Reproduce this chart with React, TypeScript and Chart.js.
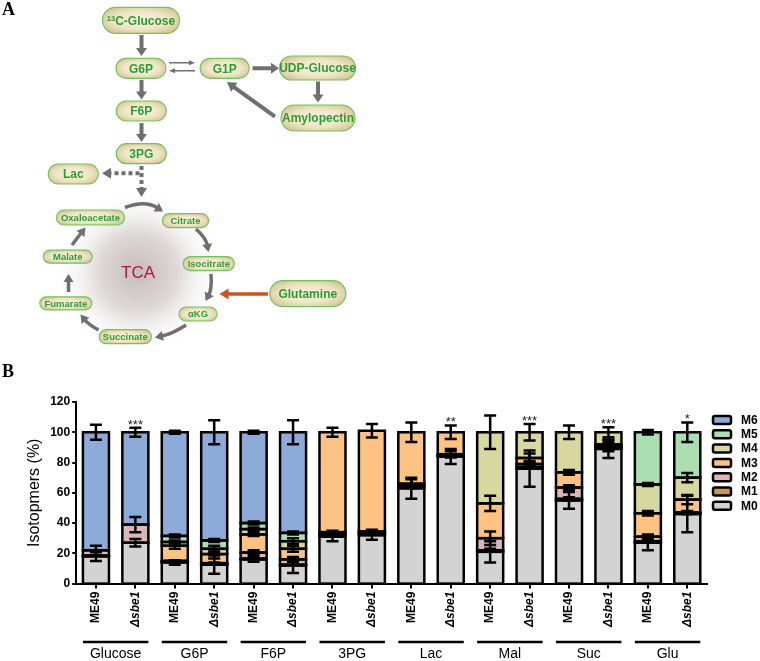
import React, { useEffect, useRef } from 'react';
import { Chart, registerables } from 'chart.js';

Chart.register(...registerables);

// ---------- DATA ----------
const groups = ['Glucose', 'G6P', 'F6P', '3PG', 'Lac', 'Mal', 'Suc', 'Glu'];
const categories = [
  'ME49', 'Δsbe1', 'ME49', 'Δsbe1', 'ME49', 'Δsbe1', 'ME49', 'Δsbe1',
  'ME49', 'Δsbe1', 'ME49', 'Δsbe1', 'ME49', 'Δsbe1', 'ME49', 'Δsbe1',
];
const yTicks = [0, 20, 40, 60, 80, 100, 120];

const M0 = [18, 27, 14, 12.5, 16, 12, 31, 32, 63, 84, 21, 76, 55, 89, 27, 46];
const M0err = [3, 2.5, 1.5, 6, 1.5, 5, 3, 3, 7, 5, 7, 12, 5.5, 6, 5, 12];
const M1 = [0.5, 0, 0.5, 0.5, 0.5, 0.5, 1.5, 1.5, 1.5, 0.5, 1, 1, 1, 1, 1, 0.5];
const M1err = [0, 0, 0, 0, 0, 0, 1, 1, 1, 1, 1, 1, 1, 1, 0.5, 0.5];
const M2 = [3.5, 12, 0.5, 0.5, 4, 3.5, 1.5, 1, 1.5, 1, 8, 2, 7.5, 0.5, 3, 0.5];
const M2err = [3, 5, 0.5, 0.5, 1.5, 1.5, 1, 1, 3, 2, 4.5, 2, 1.5, 3, 1.5, 1];
const M3 = [0, 0, 10, 6, 12, 7, 66, 66.5, 34, 14.5, 23, 4, 10, 1.5, 15.5, 8.5];
const M3err = [0, 0, 2, 3, 1, 2, 3, 4.5, 6.5, 4.5, 5, 3, 1.5, 3, 1.5, 3];
const M4 = [0, 0, 2.5, 3.5, 3.5, 5, 0, 0, 0, 0, 47, 17, 26.5, 8, 19, 14.5];
const M4err = [0, 0, 1, 2, 1, 2, 0, 0, 0, 0, 11, 5.5, 4.5, 3.3, 1, 3];
const M5 = [0, 0, 4, 5.5, 4, 5.5, 0, 0, 0, 0, 0, 0, 0, 0, 34.5, 30];
const M5err = [0, 0, 1, 1, 1, 1, 0, 0, 0, 0, 0, 0, 0, 0, 1.5, 6.5];
const M6 = [78, 61, 68.5, 71.5, 60, 66.5, 0, 0, 0, 0, 0, 0, 0, 0, 0, 0];
const M6err = [5, 3, 1, 8, 1, 8, 0, 0, 0, 0, 0, 0, 0, 0, 0, 0];
const significance = ['', '***', '', '', '', '', '', '', '', '**', '', '***', '', '***', '', '*'];

const seriesNames = ['M0', 'M1', 'M2', 'M3', 'M4', 'M5', 'M6'];
const seriesValues = [M0, M1, M2, M3, M4, M5, M6];
const seriesErrors = [M0err, M1err, M2err, M3err, M4err, M5err, M6err];
const seriesColors = ['#d3d3d3', '#c4965a', '#dbb6b6', '#fdc284', '#d7d7a0', '#aadfb2', '#8eaad8'];

const FONT = "'Liberation Sans', Arial, sans-serif";

// ---------- DIAGRAM (panel A) ----------
const pills = [
  { label: 'G6P', cx: 141, cy: 68.3, w: 50, h: 20, fs: 12 },
  { label: 'G1P', cx: 224.7, cy: 68.3, w: 49, h: 20, fs: 12 },
  { label: 'UDP-Glucose', cx: 317.5, cy: 68, w: 76, h: 24, fs: 12 },
  { label: 'Amylopectin', cx: 318, cy: 118, w: 74, h: 26, fs: 12 },
  { label: 'F6P', cx: 141.3, cy: 111, w: 50, h: 20, fs: 12 },
  { label: '3PG', cx: 141.3, cy: 153.7, w: 50, h: 20, fs: 12 },
  { label: 'Lac', cx: 73.3, cy: 174, w: 50, h: 20, fs: 12 },
  { label: 'Oxaloacetate', cx: 90.5, cy: 217.5, w: 68, h: 15, fs: 9.5 },
  { label: 'Citrate', cx: 185.5, cy: 220.7, w: 46, h: 14, fs: 9.5 },
  { label: 'Isocitrate', cx: 208.8, cy: 263.7, w: 51, h: 14, fs: 9.5 },
  { label: 'αKG', cx: 198, cy: 314, w: 38, h: 14, fs: 9.5 },
  { label: 'Succinate', cx: 125.3, cy: 336.7, w: 52, h: 14, fs: 9.5 },
  { label: 'Fumarate', cx: 65.8, cy: 303.3, w: 52, h: 13, fs: 9.5 },
  { label: 'Malate', cx: 67.8, cy: 256.7, w: 49, h: 13, fs: 9.5 },
  { label: 'Glutamine', cx: 307.8, cy: 293.7, w: 76, h: 26, fs: 12 },
];

const straightArrows = [
  { x1: 141.5, y1: 35, x2: 141.5, y2: 56, sw: 4, hw: 11, hl: 8, c: '#6f6f6f' },
  { x1: 141.5, y1: 80, x2: 141.5, y2: 99.5, sw: 4, hw: 11, hl: 8, c: '#6f6f6f' },
  { x1: 141.5, y1: 123, x2: 141.5, y2: 142, sw: 4, hw: 11, hl: 8, c: '#6f6f6f' },
  { x1: 252.5, y1: 68.3, x2: 279, y2: 68.3, sw: 4, hw: 11, hl: 8, c: '#6f6f6f' },
  { x1: 318, y1: 81.5, x2: 318, y2: 102.5, sw: 4, hw: 11, hl: 8, c: '#6f6f6f' },
  { x1: 275, y1: 116.7, x2: 227, y2: 82, sw: 4, hw: 11, hl: 9, c: '#6f6f6f' },
  { x1: 268, y1: 294, x2: 219.5, y2: 294, sw: 3.5, hw: 11, hl: 9, c: '#c9561c' },
  { x1: 169, y1: 62.7, x2: 195, y2: 62.7, sw: 1.6, hw: 5, hl: 6, c: '#6f6f6f' },
  { x1: 195, y1: 70.7, x2: 169, y2: 70.7, sw: 1.6, hw: 5, hl: 6, c: '#6f6f6f' },
];

const curvedArrows = [
  { x1: 125, y1: 207.5, cx: 145, cy: 200, x2: 163, y2: 211.5 },
  { x1: 196, y1: 229, cx: 206, cy: 238, x2: 208.5, y2: 252 },
  { x1: 211, y1: 274, cx: 212, cy: 289, x2: 205.5, y2: 301 },
  { x1: 186, y1: 325, cx: 172, cy: 334, x2: 155, y2: 337.5 },
  { x1: 98.5, y1: 330, cx: 88, cy: 324, x2: 80.5, y2: 314.5 },
  { x1: 68.5, y1: 292, cx: 68.5, cy: 283, x2: 68.5, y2: 274 },
  { x1: 72, y1: 245, cx: 78, cy: 237, x2: 85.5, y2: 227.5 },
];

function arrowPoints(x1: number, y1: number, x2: number, y2: number, sw: number, hw: number, hl: number) {
  const dx = x2 - x1, dy = y2 - y1;
  const L = Math.hypot(dx, dy);
  const ux = dx / L, uy = dy / L;
  const nx = -uy, ny = ux;
  const bx = x2 - ux * hl, by = y2 - uy * hl;
  const pts = [
    [x1 + nx * sw / 2, y1 + ny * sw / 2],
    [bx + nx * sw / 2, by + ny * sw / 2],
    [bx + nx * hw / 2, by + ny * hw / 2],
    [x2, y2],
    [bx - nx * hw / 2, by - ny * hw / 2],
    [bx - nx * sw / 2, by - ny * sw / 2],
    [x1 - nx * sw / 2, y1 - ny * sw / 2],
  ];
  return pts.map((p) => p.join(',')).join(' ');
}

function CurvedArrow({ a }: { a: any }) {
  const hl = 8, hw = 10;
  const dx = a.x2 - a.cx, dy = a.y2 - a.cy;
  const L = Math.hypot(dx, dy);
  const ux = dx / L, uy = dy / L;
  const nx = -uy, ny = ux;
  const bx = a.x2 - ux * hl, by = a.y2 - uy * hl;
  const head = [
    [bx + nx * hw / 2, by + ny * hw / 2],
    [a.x2, a.y2],
    [bx - nx * hw / 2, by - ny * hw / 2],
  ].map((p) => p.join(',')).join(' ');
  return (
    <g>
      <path d={`M ${a.x1} ${a.y1} Q ${a.cx} ${a.cy} ${bx + ux * 1} ${by + uy * 1}`} stroke="#6f6f6f" strokeWidth={3.5} fill="none" />
      <polygon points={head} fill="#6f6f6f" />
    </g>
  );
}

function Pill({ p, children }: { p: any; children?: any }) {
  return (
    <g>
      <rect x={p.cx - p.w / 2} y={p.cy - p.h / 2} width={p.w} height={p.h} rx={p.h / 2} ry={p.h / 2}
        fill="url(#pillGrad)" stroke="#72c35e" strokeWidth={1.2} />
      <text x={p.cx} y={p.cy + p.fs * 0.36} textAnchor="middle" fontFamily={FONT} fontWeight="bold"
        fontSize={p.fs} fill="#2f9a2f">{children ?? p.label}</text>
    </g>
  );
}

// ---------- CHART (panel B) ----------
const overlayPlugin = {
  id: 'overlay',
  afterDatasetsDraw(chart: any) {
    const ctx = chart.ctx;
    const xs = chart.scales.x;
    const ys = chart.scales.y;
    const step = xs.getPixelForValue(1) - xs.getPixelForValue(0);
    const w = step * 0.66;
    ctx.save();
    // outlines
    ctx.strokeStyle = '#000';
    ctx.lineWidth = 2.5;
    for (let j = 0; j < categories.length; j++) {
      const x = xs.getPixelForValue(j);
      let cum = 0;
      for (let i = 0; i < seriesValues.length; i++) {
        const v = seriesValues[i][j];
        if (!v) continue;
        const y0 = ys.getPixelForValue(cum);
        const y1 = ys.getPixelForValue(cum + v);
        ctx.strokeRect(x - w / 2, y1, w, y0 - y1);
        cum += v;
      }
    }
    // error bars
    const cap = 12;
    const tops: number[] = [];
    for (let j = 0; j < categories.length; j++) {
      const x = xs.getPixelForValue(j);
      let cum = 0;
      let topY = ys.getPixelForValue(0);
      for (let i = 0; i < seriesValues.length; i++) {
        const v = seriesValues[i][j];
        if (!v) continue;
        cum += v;
        const e = seriesErrors[i][j];
        if (e > 0) {
          const ya = ys.getPixelForValue(cum + e);
          const yb = ys.getPixelForValue(cum - e);
          ctx.beginPath();
          ctx.moveTo(x, ya); ctx.lineTo(x, yb);
          ctx.moveTo(x - cap / 2, ya); ctx.lineTo(x + cap / 2, ya);
          ctx.moveTo(x - cap / 2, yb); ctx.lineTo(x + cap / 2, yb);
          ctx.stroke();
          topY = Math.min(topY, ya);
        } else {
          topY = Math.min(topY, ys.getPixelForValue(cum));
        }
      }
      tops.push(topY);
    }
    // significance stars
    ctx.fillStyle = '#222';
    ctx.font = `13px ${FONT}`;
    ctx.textAlign = 'center';
    ctx.textBaseline = 'alphabetic';
    for (let j = 0; j < categories.length; j++) {
      if (significance[j]) ctx.fillText(significance[j], xs.getPixelForValue(j), tops[j] + 1);
    }
    // group underlines and labels
    const lineY = 282;
    for (let g = 0; g < groups.length; g++) {
      const xa = xs.getPixelForValue(2 * g) - w / 2;
      const xb = xs.getPixelForValue(2 * g + 1) + w / 2;
      ctx.beginPath();
      ctx.lineWidth = 2.5;
      ctx.moveTo(xa, lineY); ctx.lineTo(xb, lineY);
      ctx.stroke();
      ctx.fillStyle = '#000';
      ctx.font = `14px ${FONT}`;
      ctx.textBaseline = 'middle';
      ctx.fillText(groups[g], (xa + xb) / 2, 294);
    }
    // legend
    const lx = 713;
    for (let k = 0; k < seriesNames.length; k++) {
      const i = seriesNames.length - 1 - k;
      const cy = 60 + k * 14.3;
      ctx.beginPath();
      ctx.lineWidth = 2.5;
      ctx.fillStyle = seriesColors[i];
      (ctx as any).roundRect(lx, cy - 4, 18, 8, 2);
      ctx.fill();
      ctx.stroke();
      ctx.fillStyle = '#000';
      ctx.font = `bold 12px ${FONT}`;
      ctx.textAlign = 'left';
      ctx.textBaseline = 'middle';
      ctx.fillText(seriesNames[i], 741, cy + 0.5);
    }
    ctx.restore();
  },
};

export default function App() {
  const canvasRef = useRef<HTMLCanvasElement | null>(null);

  useEffect(() => {
    const canvas = canvasRef.current;
    if (!canvas) return;
    const chart = new Chart(canvas, {
      type: 'bar',
      data: {
        labels: categories,
        datasets: seriesNames.map((name, i) => ({
          label: name,
          data: seriesValues[i].map((v) => (v ? v : null)),
          backgroundColor: seriesColors[i],
          borderWidth: 0,
          barPercentage: 0.66,
          categoryPercentage: 1,
          stack: 's',
        })),
      },
      options: {
        responsive: false,
        animation: false,
        events: [],
        layout: { padding: { left: 21, right: 53, top: 42, bottom: 31 } },
        plugins: { legend: { display: false }, tooltip: { enabled: false } },
        scales: {
          x: {
            stacked: true,
            grid: { display: true, offset: false, drawOnChartArea: false, drawTicks: true, tickLength: 5, color: '#000', lineWidth: 2 },
            border: { display: true, color: '#000', width: 2 },
            ticks: {
              autoSkip: false,
              minRotation: 90,
              maxRotation: 90,
              padding: 3,
              color: '#000',
              font: (c: any) => ({ family: FONT, size: 12, weight: 'bold', style: c.index % 2 ? 'italic' : 'normal' }),
            },
          },
          y: {
            stacked: true,
            min: 0,
            max: 120,
            afterBuildTicks: (axis: any) => { axis.ticks = yTicks.map((v) => ({ value: v })); },
            grid: { display: true, drawOnChartArea: false, drawTicks: true, tickLength: 4, color: '#000', lineWidth: 2 },
            border: { display: true, color: '#000', width: 2 },
            ticks: { color: '#000', padding: 2, font: { family: FONT, size: 12, weight: 'bold' } },
            title: { display: true, text: 'Isotopmers (%)', color: '#000', font: { family: FONT, size: 16 } },
          },
        },
      },
      plugins: [overlayPlugin],
    } as any);
    return () => chart.destroy();
  }, []);

  return (
    <div style={{ position: 'fixed', left: 0, top: 0, width: 760, height: 661, background: '#fff', overflow: 'hidden' }}>
      <div style={{ position: 'absolute', left: 0, top: 360, width: 760, height: 301 }}>
        <canvas ref={canvasRef} width={760} height={301} style={{ width: 760, height: 301, display: 'block' }} />
      </div>
      <svg width={760} height={661} style={{ position: 'absolute', left: 0, top: 0, pointerEvents: 'none' }}>
        <defs>
          <radialGradient id="pillGrad" cx="50%" cy="50%" r="60%">
            <stop offset="0%" stopColor="#f8f4e4" />
            <stop offset="60%" stopColor="#ede4c4" />
            <stop offset="100%" stopColor="#d3c496" />
          </radialGradient>
          <radialGradient id="tcaGrad" cx={138} cy={272} r={85} gradientUnits="userSpaceOnUse">
            <stop offset="0%" stopColor="#c6bbbb" stopOpacity={1} />
            <stop offset="45%" stopColor="#dad3d3" stopOpacity={0.9} />
            <stop offset="100%" stopColor="#ffffff" stopOpacity={0} />
          </radialGradient>
        </defs>
        <text x={2} y={15} fontFamily="'Liberation Serif', 'Times New Roman', serif" fontWeight="bold" fontSize={18}>A</text>
        <text x={2} y={377} fontFamily="'Liberation Serif', 'Times New Roman', serif" fontWeight="bold" fontSize={18}>B</text>

        <circle cx={138} cy={272} r={85} fill="url(#tcaGrad)" />
        <text x={138} y={278} textAnchor="middle" fontFamily={FONT} fontSize={17} fill="#b3163c">TCA</text>

        {straightArrows.map((a, i) => (
          <polygon key={i} points={arrowPoints(a.x1, a.y1, a.x2, a.y2, a.sw, a.hw, a.hl)} fill={a.c} />
        ))}
        {/* dotted arrows from 3PG */}
        <line x1={141.5} y1={166} x2={141.5} y2={188} stroke="#6f6f6f" strokeWidth={4} strokeDasharray="4 3" />
        <polygon points="136,188 147,188 141.5,197" fill="#6f6f6f" />
        <line x1={139.5} y1={173.3} x2={111} y2={173.3} stroke="#6f6f6f" strokeWidth={4} strokeDasharray="4 3" />
        <polygon points="111,167.8 111,178.8 102,173.3" fill="#6f6f6f" />

        {curvedArrows.map((a, i) => <CurvedArrow key={i} a={a} />)}

        <g>
          <rect x={141 - 38.5} y={20.3 - 13} width={77} height={26} rx={13} ry={13}
            fill="url(#pillGrad)" stroke="#72c35e" strokeWidth={1.2} />
          <text x={141} y={24.6} textAnchor="middle" fontFamily={FONT} fontWeight="bold" fontSize={12} fill="#2f9a2f">
            <tspan fontSize={7.5} dy={-4}>13</tspan>
            <tspan dy={4}>C-Glucose</tspan>
          </text>
        </g>
        {pills.map((p, i) => <Pill key={i} p={p} />)}
      </svg>
    </div>
  );
}
